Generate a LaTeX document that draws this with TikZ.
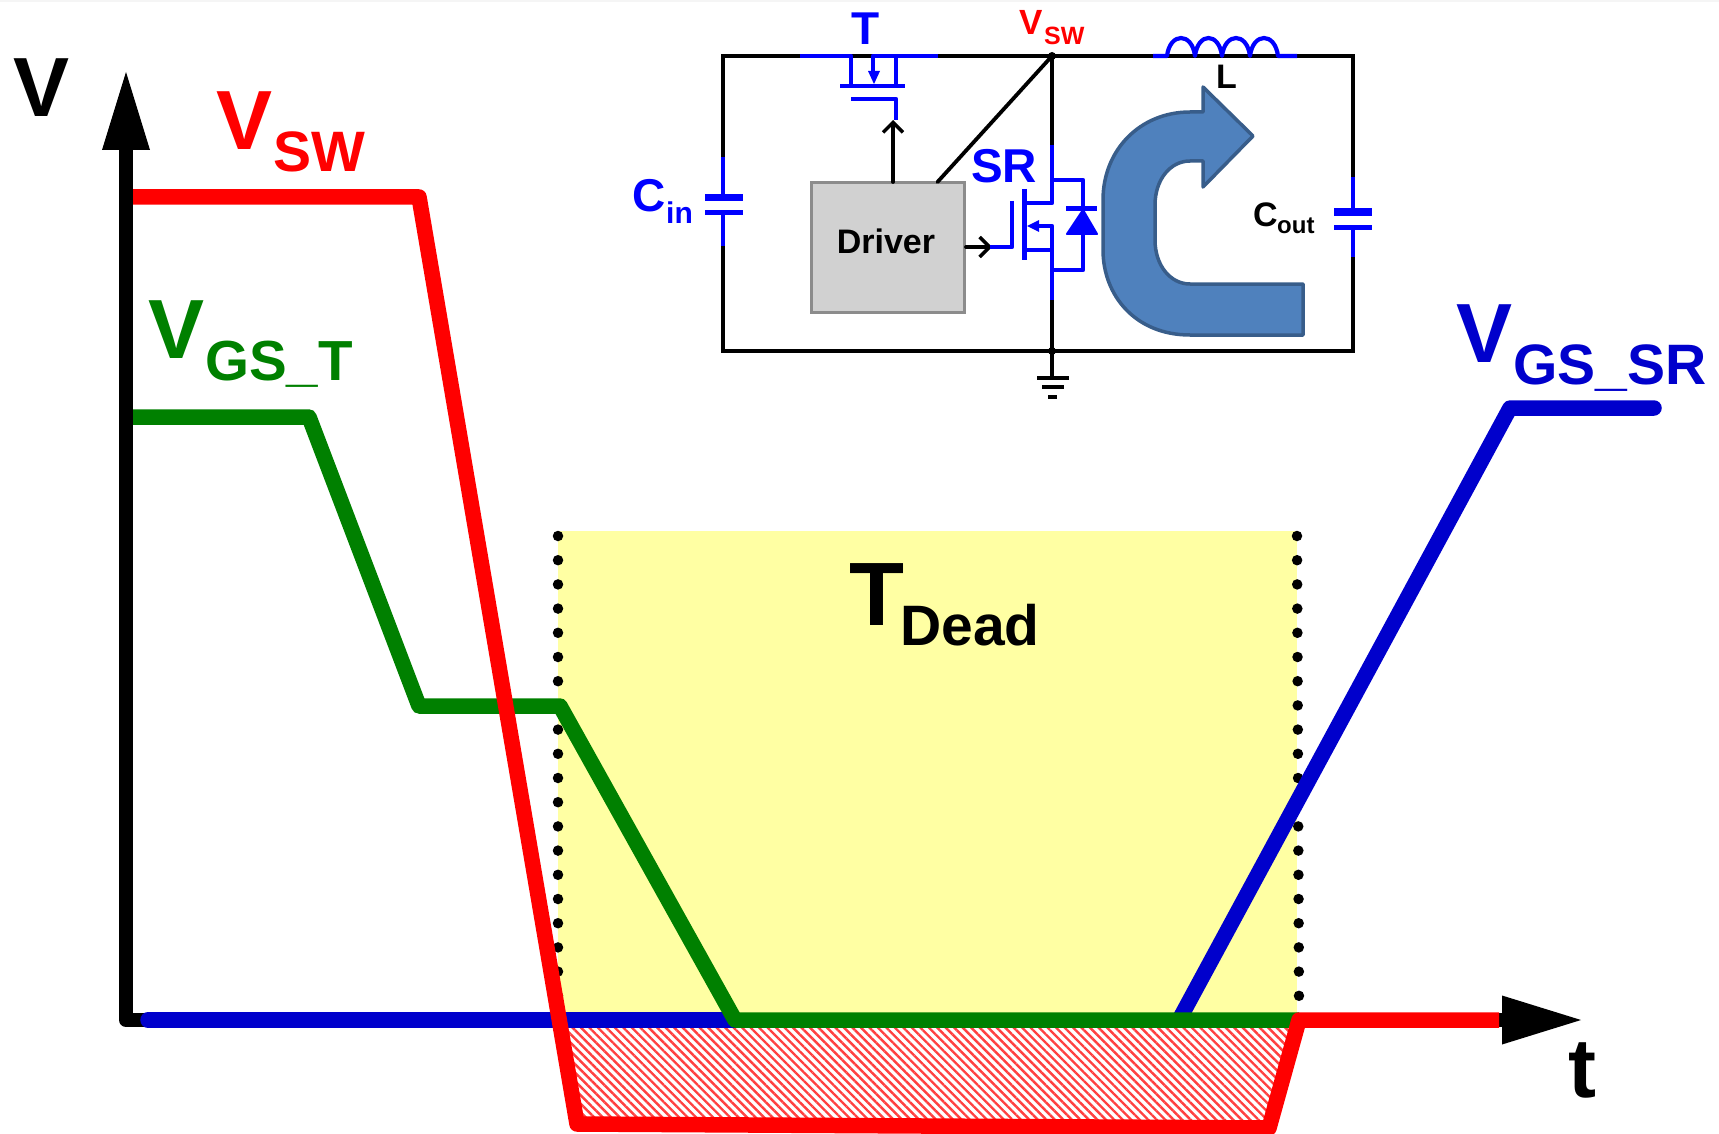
\documentclass[tikz,border=0pt]{standalone}
\usepackage{fontspec}
\setmainfont{Liberation Sans}
\usetikzlibrary{arrows.meta,patterns.meta}
\newcommand{\fs}[1]{\fontsize{#1}{#1}\selectfont\bfseries}
\definecolor{sgreen}{HTML}{008000}
\definecolor{sblue}{HTML}{0000CC}
\definecolor{cblue}{HTML}{0000FF}
\definecolor{dyellow}{HTML}{FFFFA3}
\definecolor{archfill}{HTML}{4F81BD}
\definecolor{archline}{HTML}{385D8A}
\tikzset{
  lbl/.style={inner sep=0pt,anchor=base west},
  wave/.style={line width=15.5pt,line join=round},
  axisline/.style={line width=14pt,line join=round,{Triangle[length=78pt,width=48pt,line width=0pt]}-{Triangle[length=79pt,width=49pt,line width=0pt]}},
  dotline/.style={line width=10.5pt,line cap=round,dash pattern=on 0pt off 24.2pt},
  wire/.style={line width=3.8pt,black,line cap=round,line join=miter},
  bwire/.style={line width=4.2pt,cblue,line cap=butt,line join=round},
  plate/.style={cblue,line cap=butt},
  barb/.style={wire,-{Straight Barb[length=10pt,width=20pt,line width=3.4pt]}},
}
\begin{document}
\begin{tikzpicture}[x=1pt,y=-1pt]
\useasboundingbox (0,0) rectangle (1719,1134);
% ---- named points of the plot
\coordinate (O) at (126,1020);
\coordinate (Vtip) at (126,72);
\coordinate (Ttip) at (1581,1020);
\coordinate (r0) at (133,197);
\coordinate (r1) at (419,197);
\coordinate (r2) at (577,1124);
\coordinate (r3) at (1269,1128);
\coordinate (r4) at (1299,1020);
\coordinate (r5) at (1499,1020);
\coordinate (g0) at (133,417);
\coordinate (g1) at (309,417);
\coordinate (g2) at (419,706);
\coordinate (g3) at (560,706);
\coordinate (g4) at (735,1020);
\coordinate (b0) at (148,1020);
\coordinate (b1) at (1179,1020);
\coordinate (b2) at (1510,408);
\coordinate (b3) at (1654,408);
\coordinate (dl0) at (558,536);
\coordinate (dl1) at (558,1000);
\coordinate (dr0) at (1297,536);
\coordinate (dr1) at (1299,1002);
% ---- dead-time area
\fill[black!4] (0,0) rectangle (1719,2);
\fill[dyellow] (558,531) rectangle (1297,1013);
\fill[pattern={Lines[angle=-45,distance=6pt,line width=2.4pt]},pattern color=red!75] (565,1027) -- (1295,1027) -- (1269,1126) -- (577,1124) -- cycle;
\draw[dotline] (dl0) -- (dl1);
\draw[dotline] (dr0) -- (dr1);
% ---- axes and waveforms
\draw[axisline] (Vtip) -- (O) -- (Ttip);
\draw[wave,sblue,line cap=round] (b0) -- (g4);
\draw[wave,sblue,line cap=round] (b1) -- (b2) -- (b3);
\draw[wave,sgreen] (g0) -- (g1) -- (g2) -- (g3) -- (g4) -- (r4);
\draw[wave,red] (r0) -- (r1) -- (r2) -- (r3) -- (r4) -- (r5);
% ---- plot labels
\node[lbl] (lv) at (13,117) {\fs{84}V};
\node[lbl] (lt) at (1568,1097) {\fs{84}t};
\node[lbl,red] (vsw) at (216,150) {\fs{84}V};
\node[lbl,red] (vsws) at (273,172) {\fs{57}SW};
\node[lbl,sgreen] (vgt) at (148,358) {\fs{84}V};
\node[lbl,sgreen] (vgts) at (205,380) {\fs{56.5}GS\_T};
\node[lbl,sblue] (vgs) at (1456,362) {\fs{84}V};
\node[lbl,sblue] (vgss) at (1513,384) {\fs{57}GS\_SR};
\node[lbl] (td) at (849,625) {\fs{90}T};
\node[lbl] (tds) at (900,645) {\fs{57}Dead};
% ---- circuit points
\coordinate (a) at (723,56);
\coordinate (sw) at (1052,56);
\coordinate (z) at (1353,56);
\coordinate (gl) at (723,351);
\coordinate (gn) at (1052,351);
\coordinate (zb) at (1353,351);
\coordinate (gt) at (1052,376);
% ---- circuit black wiring
\draw[wire] (sw) -- (a) -- (723,157);
\draw[wire] (723,246) -- (gl) -- (zb) -- (1353,257);
\draw[wire] (1353,177) -- (z) -- (sw) -- (1052,145);
\draw[wire] (1052,300) -- (gn) -- (gt);
\fill (sw) circle (4pt);
\fill (gn) circle (4pt);
\draw[line width=3.6pt] (1037,378) -- (1069,378);
\draw[line width=3.6pt] (1042,387) -- (1064,387);
\draw[line width=3.6pt] (1048,397) -- (1057,397);
% ---- driver
\node[draw=black!45,fill=black!18,line width=3pt,minimum width=153pt,minimum height=129pt,inner sep=0pt] (drv) at (887.5,247.5) {};
\node[inner sep=0pt] (drvt) at (886,241) {\fs{34}Driver};
\draw[wire] (drv.north west |- 0,182) ++(128,0) coordinate (dd) -- (sw);
\coordinate (gatet) at (893,120);
\coordinate (gates) at (992,247);
\draw[barb] (893,182) -- (gatet);
\draw[barb] (966,247) -- (gates);
% ---- Cin / Cout
\draw[bwire] (723,157) -- (723,197) (723,213) -- (723,246);
\draw[plate,line width=7.5pt] (705,197.5) -- (743,197.5);
\draw[plate,line width=5pt] (705,213) -- (743,213);
\draw[bwire] (1353,177) -- (1353,212) (1353,228) -- (1353,257);
\draw[plate,line width=7.5pt] (1334,212) -- (1372,212);
\draw[plate,line width=5pt] (1334,228) -- (1372,228);
% ---- inductor
\draw[bwire] (1153,56) -- (1167,56)
  .. controls (1170,32) and (1192,32) .. (1195,56)
  .. controls (1198,32) and (1219,32) .. (1222,56)
  .. controls (1225,32) and (1247,32) .. (1250,56)
  .. controls (1253,32) and (1275,32) .. (1278,56) -- (1297,56);
% ---- transistor T
\draw[bwire] (800,56) -- (851,56) -- (851,86);
\draw[bwire] (840,86) -- (905,86);
\draw[bwire] (938,56) -- (873,56) -- (873,74);
\draw[bwire] (896,56) -- (896,86);
\draw[bwire] (851,99) -- (896,99) -- (896,120);
\fill[cblue] (868,71) -- (880,71) -- (874,84) -- cycle;
% ---- transistor SR
\draw[bwire] (1052,145) -- (1052,203) -- (1024,203);
\draw[bwire] (1052,180) -- (1083,180) -- (1083,270) -- (1052,270);
\draw[bwire] (1052,300) -- (1052,226) -- (1032,226);
\draw[bwire] (1052,250) -- (1024,250);
\draw[line width=5pt,cblue] (1024,189) -- (1024,260);
\draw[bwire] (1012,201) -- (1012,247) -- (990,247);
\fill[cblue] (1039,220) -- (1039,232) -- (1027,226) -- cycle;
\draw[plate,line width=5pt] (1066,209) -- (1097,209);
\fill[cblue,draw=cblue,line width=2pt,line join=round] (1083,210) -- (1067,234) -- (1097,234) -- cycle;
% ---- loop arrow
\draw[fill=archfill,draw=archline,line width=3.5pt,line join=round] (1303,284) -- (1303,335) -- (1190,335)
  .. controls (1135,335) and (1103,295) .. (1103,250) -- (1103,200)
  .. controls (1103,150) and (1140,112) .. (1190,112) -- (1203,112) -- (1203,87) -- (1253,136) -- (1203,187) -- (1203,161) -- (1190,161)
  .. controls (1170,161) and (1155,180) .. (1155,205) -- (1155,240)
  .. controls (1155,265) and (1170,284) .. (1190,284) -- cycle;
% ---- circuit labels
\node[lbl,cblue] (lT) at (851,45) {\fs{46}T};
\node[lbl,red] (lvs) at (1019,35) {\fs{35}V};
\node[lbl,red] (lvss) at (1044,45) {\fs{25}SW};
\node[lbl,cblue] (lSR) at (971,183) {\fs{47.5}SR};
\node[lbl,cblue] (lC) at (632,212) {\fs{46}C};
\node[lbl,cblue] (lCs) at (666,224) {\fs{30}in};
\node[lbl] (lCo) at (1253,227) {\fs{34}C};
\node[lbl] (lCos) at (1277,234) {\fs{24}out};
\node[lbl] (lL) at (1216,89) {\fs{34}L};
\end{tikzpicture}
\end{document}
